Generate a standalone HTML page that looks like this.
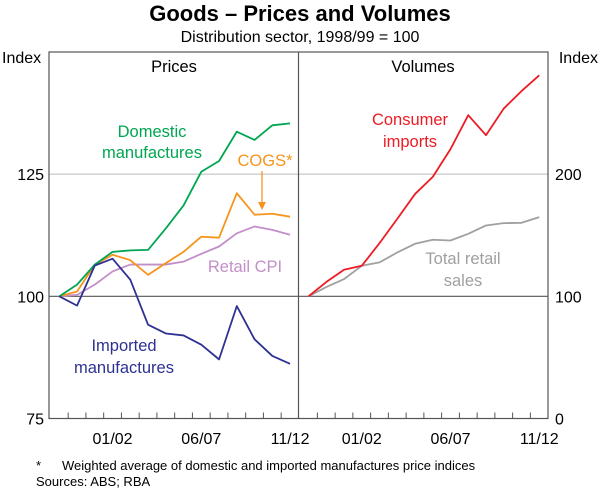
<!DOCTYPE html>
<html><head><meta charset="utf-8"><style>
body{margin:0;background:#fff}
svg text{font-family:"Liberation Sans",Arial,sans-serif}
</style></head><body>
<svg width="600" height="492" viewBox="0 0 600 492">
<text x="300" y="21" text-anchor="middle" font-size="22" font-weight="bold">Goods – Prices and Volumes</text>
<text x="300" y="42" text-anchor="middle" font-size="16">Distribution sector, 1998/99 = 100</text>
<text x="2" y="63" font-size="16">Index</text>
<text x="598" y="63" text-anchor="end" font-size="16">Index</text>
<g id="grid"></g>
<g id="series"></g>
<g id="labels" font-size="16"></g>
<rect x="49" y="52" width="499" height="366.5" fill="none" stroke="#555" stroke-width="1.2"/>
<line x1="298.5" y1="52" x2="298.5" y2="418.5" stroke="#555" stroke-width="1.2"/>
<text x="174" y="72" text-anchor="middle" font-size="16.5">Prices</text>
<text x="423" y="72" text-anchor="middle" font-size="16.5">Volumes</text>
<text x="152" y="137" text-anchor="middle" font-size="16.5" fill="#00a651">Domestic</text>
<text x="152" y="158" text-anchor="middle" font-size="16.5" fill="#00a651">manufactures</text>
<text x="265" y="166" text-anchor="middle" font-size="16.5" fill="#f7941d">COGS*</text>
<line x1="262" y1="171" x2="262" y2="203" stroke="#f7941d" stroke-width="1.3"/>
<polygon points="258,202 266,202 262,210" fill="#f7941d"/>
<text x="245" y="272" text-anchor="middle" font-size="16.5" fill="#c38fc9">Retail CPI</text>
<text x="124" y="351" text-anchor="middle" font-size="16.5" fill="#2e3192">Imported</text>
<text x="124" y="373" text-anchor="middle" font-size="16.5" fill="#2e3192">manufactures</text>
<text x="410" y="125" text-anchor="middle" font-size="16.5" fill="#ed1c24">Consumer</text>
<text x="410" y="147" text-anchor="middle" font-size="16.5" fill="#ed1c24">imports</text>
<text x="463" y="264" text-anchor="middle" font-size="16.5" fill="#a0a0a0">Total retail</text>
<text x="463" y="286" text-anchor="middle" font-size="16.5" fill="#a0a0a0">sales</text>
<text x="36" y="470" font-size="13">*</text>
<text x="62" y="470" font-size="13">Weighted average of domestic and imported manufactures price indices</text>
<text x="36" y="486" font-size="13">Sources: ABS; RBA</text>
</svg>
<script>
const years = ['98/99','99/00','00/01','01/02','02/03','03/04','04/05','05/06','06/07','07/08','08/09','09/10','10/11','11/12'];
const xTickLabels = ['01/02','06/07','11/12'];
const leftTicks = [75,100,125];
const rightTicks = [0,100,200];
const domestic = [100,102.4,106.5,109.1,109.4,109.5,113.9,118.6,125.5,127.7,133.7,132,135,135.4];
const cogs = [100,101,106.5,108.5,107.4,104.4,106.8,109.1,112.2,112,121.1,116.7,116.9,116.3];
const retailCpi = [100,100.3,102.4,105.1,106.5,106.5,106.5,107.1,108.7,110.2,112.9,114.3,113.6,112.6];
const imported = [100,98.1,106.3,107.7,103.4,94.2,92.4,92.0,90.1,87.1,98,91.2,87.8,86.2];
const consumerImports = [100,111.7,121.8,125,143.5,163.4,183.7,197.8,220.5,248.3,231.9,253.7,268,280.9];
const retailSales = [100,107.6,114.1,125,127.8,135.9,143,146.3,145.7,151.2,158,159.9,160.2,164.8];

const NS='http://www.w3.org/2000/svg';
const top0=52, bot=418.5;
const yL=v=>bot-(v-75)/75*(bot-top0);
const yR=v=>bot-v/300*(bot-top0);
const step=17.75;
const xL=i=>59.3+i*step;
const xR=i=>308.5+i*step;
function mk(tag,attrs,parent){const e=document.createElementNS(NS,tag);for(const k in attrs)e.setAttribute(k,attrs[k]);document.getElementById(parent).appendChild(e);return e;}
leftTicks.forEach(v=>{
  const y=yL(v);
  if(v>75){const l=mk('line',{x1:49,x2:548,y1:y,y2:y,stroke:v===100?'#555':'#bbb','stroke-width':v===100?1.2:1},'grid');
  
  }
  const t=mk('text',{x:44,y:y+6,'text-anchor':'end','font-size':16},'labels');t.textContent=v;
  
  
});
rightTicks.forEach(v=>{
  const t=mk('text',{x:555,y:yR(v)+6,'font-size':16},'labels');t.textContent=v;
  
  
});
for(let i=1;i<years.length;i++){
  [xL,xR].forEach(f=>{const x=f(i)-step/2;const l=mk('line',{x1:x,x2:x,y1:bot,y2:bot-6,stroke:'#555'},'grid');
  
  });
}
xTickLabels.forEach(lab=>{
  const i=years.indexOf(lab);
  [xL,xR].forEach(f=>{const t=mk('text',{x:f(i),y:444,'text-anchor':'middle','font-size':16},'labels');t.textContent=lab;
  
  });
});
function line(data,xf,yf,color,name){
  const p=mk('polyline',{points:data.map((v,i)=>xf(i)+','+yf(v)).join(' '),fill:'none',stroke:color,'stroke-width':1.8,'stroke-linejoin':'round'},'series');
  
  
}
line(retailCpi,xL,yL,'#c38fc9','retail-cpi-line');
line(cogs,xL,yL,'#f7941d','cogs-line');
line(domestic,xL,yL,'#00a651','domestic-manufactures-line');
line(imported,xL,yL,'#2e3192','imported-manufactures-line');
line(retailSales,xR,yR,'#a0a0a0','retail-sales-line');
line(consumerImports,xR,yR,'#ed1c24','consumer-imports-line');
</script>
</body></html>
